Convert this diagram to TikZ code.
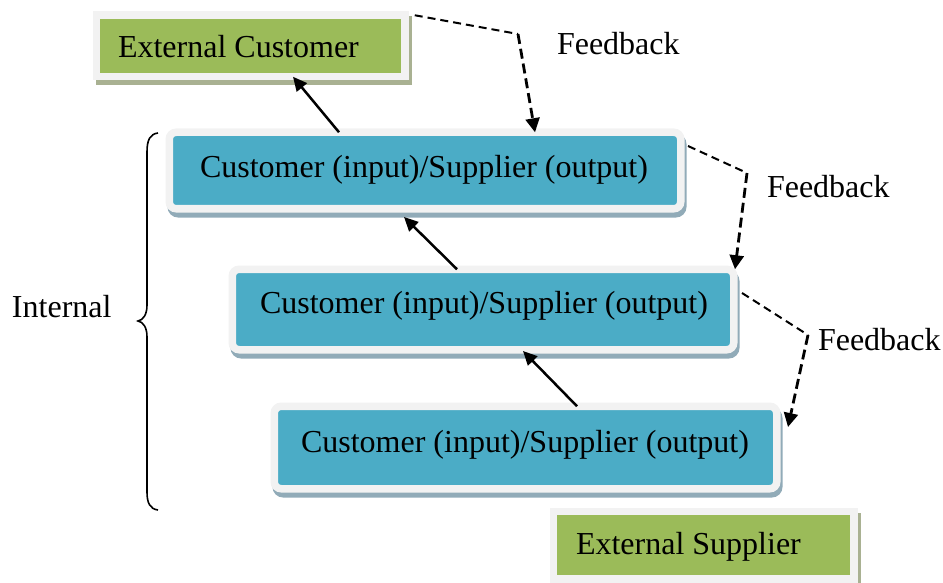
\documentclass[tikz,border=0pt]{standalone}
\usepackage{fontspec}
\setmainfont{Liberation Serif}
\usetikzlibrary{arrows.meta,calc}
\definecolor{boxblue}{HTML}{4BACC6}
\definecolor{boxgreen}{HTML}{9BBB59}
\definecolor{framegray}{HTML}{F2F2F2}
\definecolor{shadowblue}{HTML}{91ABB8}
\definecolor{shadowgreen}{HTML}{A9B192}

\begin{document}
\begin{tikzpicture}[x=1pt,y=-1pt,
  every node/.style={inner sep=0pt, outer sep=0pt},
  txt/.style={font=\fontsize{32}{38}\selectfont},
  stepframe/.style={draw=framegray, line width=7.5pt, rounded corners=7pt, fill=boxblue,
     preaction={draw=shadowblue, line width=7.5pt, transform canvas={shift={(2pt,-5pt)}}}},
  extframe/.style={draw=framegray, line width=7.5pt, fill=boxgreen,
     preaction={draw=shadowgreen, line width=7.5pt, transform canvas={shift={(3pt,-5pt)}}}},
  flow/.style={line width=2.5pt, -{Triangle[length=14pt,width=13pt]}},
  fbout/.style={line width=2pt, dash pattern=on 8pt off 5pt},
  fbin/.style={line width=2.8pt, dash pattern=on 10pt off 5pt, -{Triangle[length=14pt,width=14pt]}},
]
\useasboundingbox (0,0) rectangle (943,583);

% external customer
\node[extframe, minimum width=308.5pt, minimum height=61.5pt] (ec) at (250.5,46) {};
\node[txt, anchor=base west] (ect) at (118,58) {External Customer};

% internal chain of customer/supplier steps
\node[stepframe, minimum width=511.5pt, minimum height=76.5pt] (b1) at (425,170.5) {};
\node[txt, anchor=base] (b1t) at (424,178) {Customer (input)/Supplier (output)};
\node[stepframe, minimum width=501.5pt, minimum height=80.5pt] (b2) at (483,309.5) {};
\node[txt, anchor=base] (b2t) at (484,313) {Customer (input)/Supplier (output)};
\node[stepframe, minimum width=502.5pt, minimum height=82.5pt] (b3) at (525.5,447.5) {};
\node[txt, anchor=base] (b3t) at (525,452) {Customer (input)/Supplier (output)};

% external supplier
\node[extframe, minimum width=300.5pt, minimum height=67.5pt] (es) at (703.5,545) {};
\node[txt, anchor=base west] (est) at (576,554) {External Supplier};

% labels
\node[txt, anchor=base west] (fb1) at (557,55) {Feedback};
\node[txt, anchor=base west] (fb2) at (767,197) {Feedback};
\node[txt, anchor=base west] (fb3) at (818,350) {Feedback};
\node[txt, anchor=base west] (int) at (12,317) {Internal};

% brace grouping the internal steps
\draw[line width=1.6pt] (158,133) .. controls (150,134) and (147,140) .. (147,152)
  -- (147,305) .. controls (147,315) and (143,320) .. (138,321)
  .. controls (143,322) and (147,327) .. (147,337)
  -- (147,492) .. controls (147,503) and (150,509) .. (158,510);

% flow of output upwards
\draw[flow] ([xshift=169.75pt]b1.north west) -- ([xshift=196.75pt]ec.south west);
\draw[flow] ([xshift=224.75pt]b2.north west) -- ([xshift=234.75pt,yshift=-8.25pt]b1.south west);
\draw[flow] ([xshift=302.75pt]b3.north west) -- ([xshift=290.75pt,yshift=-1.25pt]b2.south west);

% feedback loops
\coordinate (k1) at (518,34);
\coordinate (k2) at (747,173);
\coordinate (k3) at (808,335);
\draw[fbout] ([xshift=10pt]ec.north east) -- (k1);
\draw[fbin] (k1) -- ([xshift=365.75pt]b1.north west);
\draw[fbout] ([xshift=7.25pt,yshift=-13.75pt]b1.north east) -- (k2);
\draw[fbin] (k2) -- ([xshift=1.25pt]b2.north east);
\draw[fbout] ([xshift=8.25pt,yshift=-23.75pt]b2.north east) -- (k3);
\draw[fbin] (k3) -- ([xshift=11.25pt,yshift=-20.75pt]b3.north east);
\end{tikzpicture}
\end{document}
